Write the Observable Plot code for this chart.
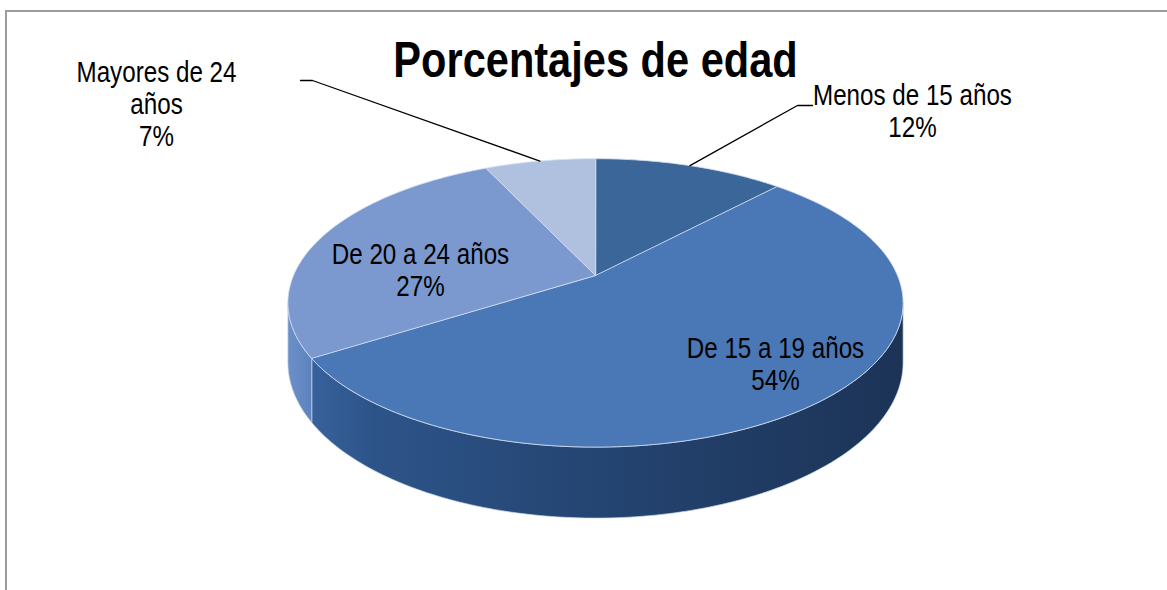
<!DOCTYPE html>
<html><head><meta charset="utf-8">
<script src="https://cdn.jsdelivr.net/npm/d3@7"></script>
<script src="https://cdn.jsdelivr.net/npm/@observablehq/plot@0.6"></script>
<style>
html,body{margin:0;padding:0;background:#fff;}
#wrap{position:relative;width:1167px;height:590px;overflow:hidden;}
#frame{position:absolute;left:5px;top:10px;width:1300px;height:700px;border-left:2px solid #9c9c9c;border-top:2px solid #9c9c9c;box-sizing:border-box;}
#chart{position:absolute;left:0;top:0;}
</style></head><body>
<div id="wrap"><div id="frame"></div><div id="chart"></div></div>
<script>
// ---------- DATA ----------
const title = "Porcentajes de edad";
const categories = ["Menos de 15 años", "De 15 a 19 años", "De 20 a 24 años", "Mayores de 24 años"];
const values = [12, 54, 27, 7];
const percentLabels = ["12%", "54%", "27%", "7%"];
const displayNames = ["Menos de 15 años", "De 15 a 19 años", "De 20 a 24 años", "Mayores de 24\naños"];

// ---------- LAYOUT / STYLE ----------
const W = 1167, H = 590;
const pie = {cx: 595, cy: 275, a: 302, b: 139, k: 0.19, depth: 57.5};
const topColors = ["#3b6699", "#4a78b6", "#7b99cf", "#afc1df"];
const sideColors = ["#243f66", "url(#side54)", "url(#side27)", "#8ea6cf"];
const labelPos = [[912, 136], [775, 389], [420, 295], [156, 145]]; // baseline of last line
const leaderElbows = {0: [[812, 105], [797, 105]], 3: [[300, 80], [312, 80]]};
const labelSize = 28.8, titleSize = 49.5;

function fontAvailable(name) {
  const c = document.createElement("canvas").getContext("2d");
  const t = "Menos de 15 años WMwil 0123";
  c.font = "40px monospace"; const w0 = c.measureText(t).width;
  c.font = `40px "${name}", monospace`; const w1 = c.measureText(t).width;
  return Math.abs(w0 - w1) > 0.5;
}
const narrow = ["Liberation Sans Narrow", "Arial Narrow"].find(fontAvailable);
const fontFamily = narrow ? `"${narrow}", sans-serif` : `"Liberation Sans", Arial, sans-serif`;
const squeeze = narrow ? 1 : 0.84;

// ---------- GEOMETRY from data ----------
const total = d3.sum(values);
const rad = d => d * Math.PI / 180;
function proj(deg, down = 0) {
  const t = rad(deg), s = 1 / (1 + pie.k * Math.cos(t));
  return [pie.cx + pie.a * Math.sin(t) * s, pie.cy - pie.b * Math.cos(t) * s + down * pie.depth * s];
}
let acc = 0;
const slices = values.map((v, i) => {
  const t0 = acc / total * 360; acc += v; const t1 = acc / total * 360;
  return {i, t0, t1, mid: (t0 + t1) / 2};
});
function arc(t0, t1, down = 0) {
  const n = Math.max(2, Math.ceil((t1 - t0) / 1));
  return d3.range(n + 1).map(j => proj(t0 + (t1 - t0) * j / n, down));
}
const topPolys = slices.map(s => [[pie.cx, pie.cy], ...arc(s.t0, s.t1)].map(([x, y]) => ({x, y})));
const thL = Math.acos(-pie.k) * 180 / Math.PI, thR = 360 - thL;
const sidePolys = slices.map(s => {
  const a0 = Math.max(s.t0, thL), a1 = Math.min(s.t1, thR);
  if (a1 <= a0) return null;
  return [...arc(a0, a1, 0), ...arc(a0, a1, 1).reverse()].map(([x, y]) => ({x, y}));
});
const leaders = Object.entries(leaderElbows).map(([i, pts]) => [...pts, proj(slices[+i].mid)].map(([x, y]) => ({x, y, i: +i}))).flat();
const labelData = slices.map(s => ({x: labelPos[s.i][0], y: labelPos[s.i][1], text: displayNames[s.i] + "\n" + percentLabels[s.i]}));

const marks = [];
sidePolys.forEach((p, i) => { if (p) marks.push(Plot.line(p, {x: "x", y: "y", curve: "linear-closed", fill: sideColors[i], stroke: "#c9d6ec", strokeOpacity: 0.7, strokeWidth: 1})); });
topPolys.forEach((p, i) => marks.push(Plot.line(p, {x: "x", y: "y", curve: "linear-closed", fill: topColors[i], stroke: "#d3def0", strokeOpacity: 0.8, strokeWidth: 1})));
marks.push(Plot.line(leaders, {x: "x", y: "y", z: "i", stroke: "#000", strokeWidth: 1.3}));
marks.push(Plot.text(labelData, {x: "x", y: "y", text: "text", fontSize: labelSize, lineAnchor: "bottom", lineHeight: 1.11, fill: "#000", fontFamily}));
marks.push(Plot.text([title], {frameAnchor: "top", dx: pie.cx - W / 2, dy: 76, lineAnchor: "bottom", fontSize: titleSize, fontWeight: "bold", fill: "#000", fontFamily}));

const svg = Plot.plot({
  width: W, height: H, margin: 0,
  style: {background: "transparent", overflow: "visible"},
  x: {domain: [0, W], range: [0, W], axis: null},
  y: {domain: [0, H], range: [0, H], axis: null},
  marks
});
svg.insertAdjacentHTML("afterbegin", `<defs>
<linearGradient id="side54" gradientUnits="userSpaceOnUse" x1="300" y1="0" x2="905" y2="0">
<stop offset="0" stop-color="#3a64a0"/><stop offset="0.12" stop-color="#2d5489"/><stop offset="0.5" stop-color="#244471"/><stop offset="1" stop-color="#1c3356"/></linearGradient>
<linearGradient id="side27" gradientUnits="userSpaceOnUse" x1="286" y1="0" x2="315" y2="0">
<stop offset="0" stop-color="#6d90c8"/><stop offset="1" stop-color="#5b80bb"/></linearGradient>
</defs>`);
if (squeeze !== 1) {
  svg.querySelectorAll("text").forEach(t => {
    const tr = t.getAttribute("transform") || "";
    t.setAttribute("transform", tr + ` scale(${squeeze},1)`);
  });
}
document.getElementById("chart").appendChild(svg);
</script>
</body></html>
